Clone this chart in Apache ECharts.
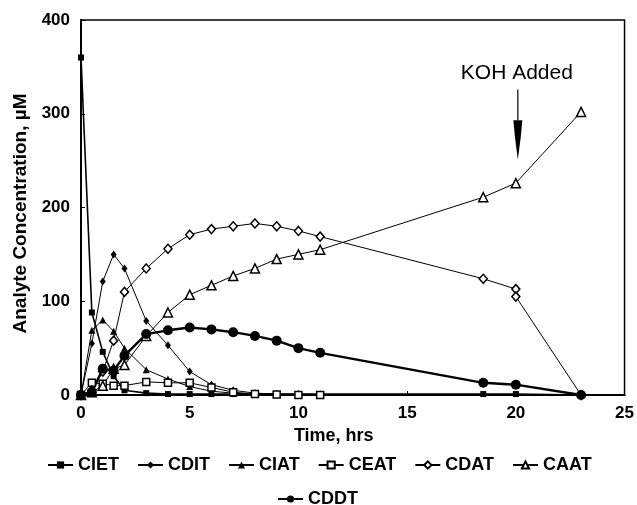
<!DOCTYPE html>
<html>
<head>
<meta charset="utf-8">
<script src="https://cdn.jsdelivr.net/npm/echarts@6/dist/echarts.min.js"></script>
<style>html,body{margin:0;padding:0;background:#fff}#c{width:637px;height:505px}</style>
</head>
<body>
<div id="c"></div>
<script>
// ---- data ----
const hours = [0, 0.5, 1, 1.5, 2, 3, 4, 5, 6, 7, 8, 9, 10, 11, 18.5, 20, 23];
const ciet = [360, 88, 46, 20, 5, 2, 1, 1, 1, 1, 1, 1, 1, 1, 1, 1, 0];
const cdit = [0, 55, 121, 150, 135, 79, 53, 25, 11, 5, 2, 1, 1, 0.5, null, null, null];
const ciat = [0, 69, 80, 68, 50, 27, 17, 9, 4, 2, 1, 0.5, 0.5, 0, null, null, null];
const ceat = [0, 13, 12, 10, 10, 14, 13, 13, 8, 3, 1, 0.5, 0, 0, null, null, null];
const cdatHours = [0, 0.5, 1, 1.5, 2, 3, 4, 5, 6, 7, 8, 9, 10, 11, 18.5, 20, 20, 23];
const cdat = [0, 5, 25, 58, 110, 135, 156, 171, 177, 180, 183, 180, 175, 169, 124, 113, 105, 0];
const caat = [0, 3, 10, 28, 32, 63, 88, 107, 117, 127, 135, 145, 150, 155, 211, 226, 302];
const cddt = [0, 3, 28, 26, 42, 65, 69, 72, 70, 67, 63, 58, 50, 45, 13, 11, 0];
const seriesNames = ['CIET', 'CDIT', 'CIAT', 'CEAT', 'CDAT', 'CAAT', 'CDDT'];
const xTicks = [0, 5, 10, 15, 20, 25];
const yTicks = [0, 100, 200, 300, 400];
const kohLabel = 'KOH Added';
const kohHour = 20;
const kohArrowValues = [326, 293, 251]; // shaft top, head top, tip (µM units)

// ---- chart ----
const FONT = 'Liberation Sans, Arial, Helvetica, sans-serif';
const pair = (xs, ys) => xs.map((x, i) => [x, ys[i]]);
function mk(name, data, symbol, size, filled, lw) {
  return {
    name, type: 'line', data, symbol, symbolSize: size, showSymbol: true,
    connectNulls: false,
    lineStyle: { color: '#000', width: lw },
    itemStyle: filled ? { color: '#000', borderColor: '#000', borderWidth: 0 }
                      : { color: '#fff', borderColor: '#000', borderWidth: 1.5 },
    emphasis: { disabled: true }, animation: false, z: 3
  };
}
const series = [
  mk('CIET', pair(hours, ciet), 'rect', 6, true, 1.6),
  mk('CDIT', pair(hours, cdit), 'diamond', [6, 8], true, 1),
  mk('CIAT', pair(hours, ciat), 'triangle', 7, true, 1),
  mk('CEAT', pair(hours, ceat), 'rect', 7, false, 1),
  mk('CDAT', pair(cdatHours, cdat), 'diamond', [8, 9], false, 1),
  mk('CAAT', pair(hours, caat), 'triangle', 9, false, 1),
  mk('CDDT', pair(hours, cddt), 'circle', 10, true, 2.4)
];
const legendCommon = {
  orient: 'horizontal', itemWidth: 25, itemHeight: 9, itemGap: 18, padding: 0,
  textStyle: { fontFamily: FONT, fontSize: 18, fontWeight: 'bold', color: '#000' },
  selectedMode: false, inactiveColor: '#000'
};
const chart = echarts.init(document.getElementById('c'), null, { renderer: 'canvas' });
chart.setOption({
  backgroundColor: '#fff',
  animation: false,
  grid: { left: 81, right: 12, top: 20, bottom: 110, show: true, borderColor: '#000', borderWidth: 1.5, backgroundColor: 'transparent' },
  xAxis: {
    type: 'value', min: 0, max: 25, interval: 5,
    name: 'Time, hrs', nameLocation: 'middle', nameGap: 26,
    nameTextStyle: { fontFamily: FONT, fontSize: 18, fontWeight: 'bold', color: '#000', padding: [0, 38, 0, 0] },
    axisLine: { show: true, lineStyle: { color: '#000', width: 2 } },
    axisTick: { show: true, inside: true, length: 4, lineStyle: { color: '#000' } },
    axisLabel: { fontFamily: FONT, fontSize: 17, fontWeight: 'bold', color: '#000', margin: 10,
                 formatter: v => xTicks.includes(v) ? String(v) : '' },
    splitLine: { show: false }
  },
  yAxis: {
    type: 'value', min: 0, max: 400, interval: 100,
    name: 'Analyte Concentration, µM', nameLocation: 'middle', nameGap: 49, nameRotate: 90,
    nameTextStyle: { fontFamily: FONT, fontSize: 19, fontWeight: 'bold', color: '#000', padding: [0, 12, 0, 0] },
    axisLine: { show: true, lineStyle: { color: '#000', width: 2 } },
    axisTick: { show: true, inside: true, length: 4, lineStyle: { color: '#000' } },
    axisLabel: { fontFamily: FONT, fontSize: 17, fontWeight: 'bold', color: '#000', margin: 11,
                 formatter: v => yTicks.includes(v) ? String(v) : '' },
    splitLine: { show: false }
  },
  legend: [
    Object.assign({}, legendCommon, { data: seriesNames.slice(0, 6), left: 47, top: 456 }),
    Object.assign({}, legendCommon, { data: seriesNames.slice(6), left: 277, top: 490 })
  ],
  series
});

// annotation: "KOH Added" arrow at t = kohHour
function drawAnnotation() {
  const p0 = chart.convertToPixel({ gridIndex: 0 }, [kohHour, kohArrowValues[0]]);
  const p1 = chart.convertToPixel({ gridIndex: 0 }, [kohHour, kohArrowValues[1]]);
  const p2 = chart.convertToPixel({ gridIndex: 0 }, [kohHour, kohArrowValues[2]]);
  const x = p0[0] + 2;
  chart.setOption({
    graphic: [
      { type: 'text', left: x - 57, top: p0[1] - 27,
        style: { text: kohLabel, font: 'normal 21px ' + FONT, fill: '#000' }, z: 10 },
      { type: 'line', shape: { x1: x, y1: p0[1], x2: x, y2: p1[1] },
        style: { stroke: '#000', lineWidth: 1.2 }, z: 10 },
      { type: 'polygon', shape: { points: [[x - 4.5, p1[1]], [x + 4.5, p1[1]], [x + 3, p1[1] + 16], [x, p2[1]], [x - 3, p1[1] + 16]] },
        style: { fill: '#000' }, z: 10 }
    ]
  });
}
drawAnnotation();
</script>
</body>
</html>
